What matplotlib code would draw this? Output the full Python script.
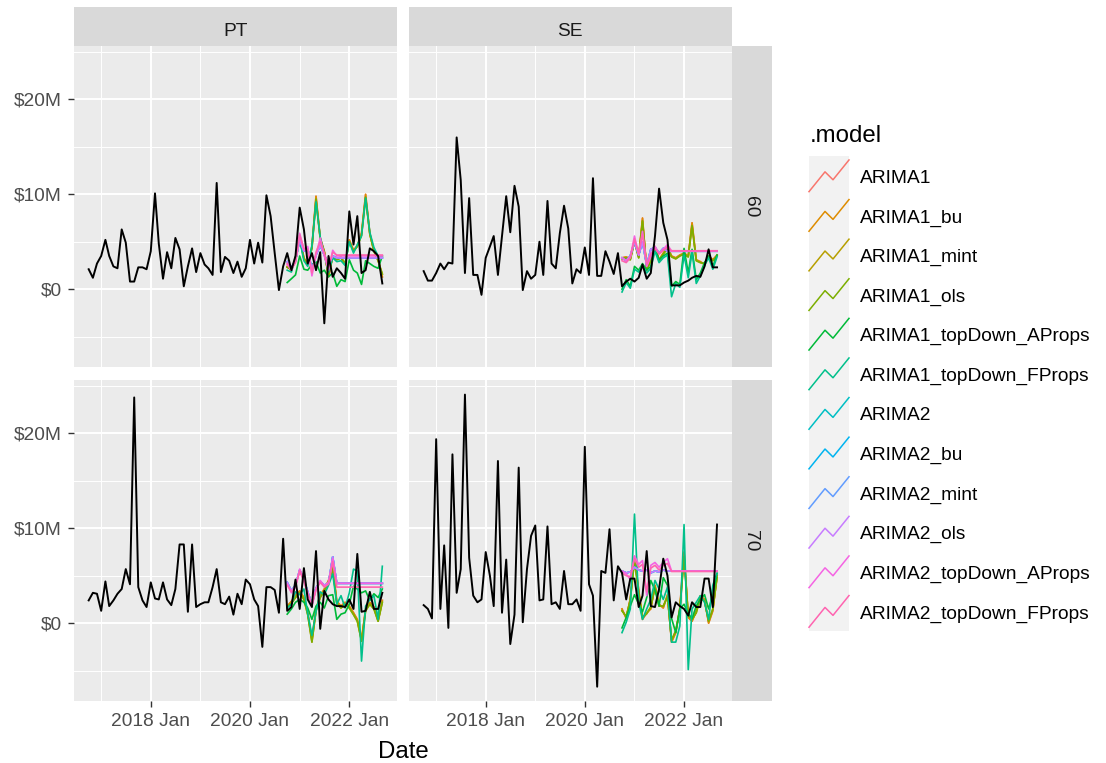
import numpy as np
import pandas as pd
import matplotlib
matplotlib.use("Agg")
import matplotlib.pyplot as plt
import matplotlib.dates as mdates

plt.rcParams['font.family'] = ['Liberation Sans', 'DejaVu Sans']

W, H = 1106, 763

# ---------------- data ----------------
months = pd.date_range("2016-10-01", periods=72, freq="MS")
fc_months = months[-24:]

countries = ["PT", "SE"]
groups = ["60", "70"]

models = ["ARIMA1", "ARIMA1_bu", "ARIMA1_mint", "ARIMA1_ols",
          "ARIMA1_topDown_AProps", "ARIMA1_topDown_FProps",
          "ARIMA2", "ARIMA2_bu", "ARIMA2_mint", "ARIMA2_ols",
          "ARIMA2_topDown_AProps", "ARIMA2_topDown_FProps"]
colors = ["#F8766D", "#DE8C00", "#B79F00", "#7CAE00", "#00BA38", "#00C08B",
          "#00BFC4", "#00B4F0", "#619CFF", "#C77CFF", "#F564E3", "#FF64B0"]

y_ticks = [0, 10, 20]
y_tick_labels = ["$0", "$10M", "$20M"]
y_minor = [-5, 5, 15, 25]
x_major = ["2018-01-01", "2020-01-01", "2022-01-01"]
x_major_labels = ["2018 Jan", "2020 Jan", "2022 Jan"]
x_minor = ["2017-01-01", "2019-01-01", "2021-01-01"]

# actual values ($M)
PT60_actual = [2.1, 1.2, 2.7, 3.5, 5.2, 3.5, 2.4, 2.2,
               6.3, 4.9, 0.8, 0.8, 2.3, 2.3, 2.1, 4.0,
               10.1, 4.8, 1.1, 3.9, 2.2, 5.4, 4.2, 0.3,
               2.4, 4.3, 1.8, 3.8, 2.6, 2.2, 1.5, 11.2,
               1.8, 3.4, 3.0, 1.7, 2.9, 1.3, 2.2, 5.2,
               2.7, 4.9, 2.8, 9.9, 7.7, 3.8, -0.1, 2.4,
               3.8, 2.0, 3.5, 8.6, 6.3, 2.7, 3.8, 2.0,
               3.9, -3.6, 3.5, 1.3, 2.2, 1.7, 1.1, 8.2,
               4.7, 7.7, 1.7, 2.0, 4.3, 4.0, 3.5, 0.6]
SE60_actual = [1.9, 0.9, 0.9, 1.7, 2.7, 2.1, 2.8, 2.7,
               16.0, 11.5, 1.7, 9.6, 1.5, 1.5, -0.6, 3.3,
               4.5, 5.6, 1.5, 5.6, 9.8, 6.0, 10.9, 8.7,
               -0.1, 1.9, 1.1, 1.5, 5.0, 1.5, 9.3, 2.7,
               2.2, 5.9, 8.8, 6.4, 0.6, 2.1, 1.7, 4.4,
               1.5, 11.7, 1.4, 1.4, 4.0, 2.9, 1.6, 3.8,
               0.3, 0.8, 1.1, 0.8, 1.2, 2.6, 1.1, 1.7,
               5.6, 10.6, 7.0, 5.2, 0.4, 0.4, 0.4, 0.7,
               0.9, 1.2, 1.4, 1.3, 2.4, 4.2, 2.3, 2.3]
PT70_actual = [2.4, 3.2, 3.1, 1.3, 4.4, 1.8, 2.4, 3.1,
               3.6, 5.7, 4.1, 23.8, 3.8, 2.4, 1.7, 4.3,
               2.6, 2.5, 4.3, 2.5, 1.9, 3.6, 8.3, 8.3,
               1.2, 8.3, 1.7, 2.0, 2.2, 2.2, 3.8, 5.7,
               2.2, 2.0, 2.8, 0.9, 3.1, 2.0, 4.6, 4.1,
               2.5, 1.8, -2.5, 3.8, 3.8, 3.5, 1.1, 8.9,
               1.3, 1.7, 4.6, 1.5, 5.8, 2.5, 1.7, 7.6,
               -0.6, 3.4, 2.5, 2.0, 1.8, 1.8, 1.7, 2.5,
               1.5, 7.3, 1.2, 1.3, 3.3, 1.5, 1.5, 3.2]
SE70_actual = [1.9, 1.5, 0.5, 19.4, 1.5, 8.2, -0.5, 17.8,
               3.2, 5.7, 24.1, 6.9, 2.9, 2.2, 2.5, 7.5,
               5.0, 1.8, 17.1, 1.1, 6.7, -2.2, 0.9, 16.4,
               0.1, 5.7, 9.2, 10.3, 2.4, 2.5, 10.2, 2.0,
               2.2, 1.5, 5.5, 2.0, 2.0, 2.5, 1.3, 18.6,
               4.1, 2.9, -6.7, 5.5, 5.3, 9.9, 2.4, 6.0,
               5.3, 2.5, 4.7, 4.7, 1.7, 2.9, 7.6, 1.8,
               1.7, 3.6, 6.8, 5.0, 0.6, 2.2, 1.8, 1.5,
               0.8, 2.2, 1.7, 1.7, 4.7, 4.7, 1.7, 10.4]

# forecasts ($M), Oct 2020 - Sep 2022
PT60_a1 = [2.4, 2.0, 3.2, 5.5, 3.3, 2.6, 4.5, 9.8, 5.4, 4.0, 1.3, 3.5, 3.2, 3.4, 2.6, 5.2, 4.1, 4.6, 5.9, 10.0, 5.9, 4.1, 3.1, 1.3]
PT60_a1m = [2.3, 2.1, 3.0, 5.3, 3.2, 2.7, 4.3, 9.5, 5.3, 3.9, 1.5, 3.4, 3.1, 3.3, 2.7, 5.0, 4.0, 4.5, 5.7, 9.7, 5.8, 4.0, 3.0, 1.6]
PT60_a1tA = [0.7, 1.1, 1.5, 3.5, 2.1, 2.0, 2.6, 2.9, 1.7, 2.0, 1.3, 1.7, 0.3, 1.0, 0.8, 3.1, 2.0, 1.7, 0.5, 3.0, 2.7, 2.4, 2.2, 3.5]
PT60_a1tF = [2.0, 1.8, 3.4, 5.2, 3.0, 2.4, 4.6, 9.2, 5.5, 3.7, 1.8, 3.3, 2.9, 3.0, 2.5, 5.0, 3.8, 4.7, 5.6, 9.6, 6.0, 4.4, 3.5, 3.4]
PT60_a2 = [2.9, 2.3, 3.0, 5.2, 4.0, 4.3, 2.0, 3.6, 4.6, 3.6, 2.6, 3.5, 3.3, 3.3, 3.3, 3.3, 3.3, 3.3, 3.3, 3.3, 3.3, 3.3, 3.3, 3.3]
PT60_a2tA = [2.6, 2.0, 3.0, 5.9, 4.1, 4.5, 1.4, 3.6, 5.4, 3.5, 2.0, 4.1, 3.5, 3.5, 3.5, 3.5, 3.5, 3.5, 3.5, 3.5, 3.5, 3.5, 3.5, 3.5]
PT60_a2tF = [2.7, 2.1, 2.8, 5.7, 4.3, 4.2, 1.7, 3.9, 5.0, 3.8, 2.3, 3.9, 3.6, 3.6, 3.6, 3.6, 3.6, 3.6, 3.6, 3.6, 3.6, 3.6, 3.6, 3.6]

SE60_a1 = [3.3, 3.4, 3.2, 5.2, 3.4, 7.5, 2.0, 3.1, 4.5, 3.1, 3.8, 4.5, 3.5, 3.3, 3.6, 3.8, 3.5, 7.0, 3.1, 2.9, 2.6, 3.5, 3.1, 3.6]
SE60_a1m = [3.2, 3.3, 3.1, 5.0, 3.3, 7.2, 2.1, 3.0, 4.4, 3.0, 3.7, 4.3, 3.4, 3.2, 3.5, 3.7, 3.4, 6.7, 3.0, 2.8, 2.7, 3.4, 3.0, 3.5]
SE60_a1tA = [0.0, 1.0, 0.3, 2.4, 2.0, 2.7, 2.0, 2.4, 4.3, 3.1, 3.5, 3.8, 0.3, 0.8, 0.5, 4.3, 1.7, 4.2, 1.0, 1.7, 2.8, 3.5, 2.4, 3.6]
SE60_a1tF = [-0.3, 0.7, 0.1, 2.1, 1.8, 2.5, 1.7, 2.2, 4.0, 2.8, 3.3, 3.6, -0.8, 0.6, 0.2, 3.6, 1.2, 3.9, 0.6, 1.4, 2.5, 3.3, 2.1, 3.4]
SE60_a2 = [3.3, 3.0, 3.5, 5.0, 3.6, 5.0, 2.5, 4.2, 4.4, 3.8, 4.3, 4.0, 4.0, 4.0, 4.0, 4.0, 4.0, 4.0, 4.0, 4.0, 4.0, 4.0, 4.0, 4.0]
SE60_a2tA = [3.3, 3.0, 3.4, 5.6, 3.6, 6.1, 2.4, 3.4, 4.5, 3.8, 4.2, 4.7, 4.0, 4.0, 4.0, 4.0, 4.0, 4.0, 4.0, 4.0, 4.0, 4.0, 4.0, 4.0]
SE60_a2tF = [3.0, 2.8, 3.3, 5.3, 3.8, 5.8, 2.6, 3.7, 4.3, 3.7, 4.1, 4.4, 4.05, 4.05, 4.05, 4.05, 4.05, 4.05, 4.05, 4.05, 4.05, 4.05, 4.05, 4.05]

PT70_a1 = [1.8, 2.3, 2.9, 3.4, 2.7, 1.1, -1.7, 1.5, 2.9, 3.6, 4.5, 6.0, 2.3, 1.8, 2.2, 1.8, 1.1, 0.4, -1.7, 1.5, 2.2, 1.7, 0.3, 2.4]
PT70_a1m = [1.7, 2.1, 2.7, 3.2, 2.5, 0.9, -2.0, 1.3, 2.7, 3.4, 4.3, 5.8, 2.1, 1.6, 2.0, 1.6, 0.9, 0.2, -1.9, 1.3, 2.0, 1.5, 0.2, 2.2]
PT70_a1tA = [0.95, 1.5, 2.2, 2.5, 2.2, 1.6, 0.4, 1.8, 2.2, 1.6, 2.9, 3.0, 0.4, 0.95, 1.1, 2.0, 3.9, 3.6, 3.2, 3.4, 2.4, 3.1, 2.7, 3.6]
PT70_a1tF = [1.6, 2.0, 3.3, 3.0, 3.6, 1.0, -1.3, 1.2, 3.3, 3.0, 4.0, 5.2, 2.0, 2.9, 1.6, 3.2, 5.7, 5.5, -4.0, 1.8, 2.5, 2.9, 0.4, 6.0]
PT70_a2 = [4.3, 3.4, 4.0, 5.6, 4.6, 3.3, 2.0, 3.7, 4.4, 4.0, 4.2, 7.0, 4.2, 4.2, 4.2, 4.2, 4.2, 4.2, 4.2, 4.2, 4.2, 4.2, 4.2, 4.2]
PT70_a2tA = [4.1, 3.2, 3.9, 5.7, 4.6, 3.2, 1.8, 3.6, 4.5, 3.9, 4.3, 6.8, 4.2, 4.2, 4.2, 4.2, 4.2, 4.2, 4.2, 4.2, 4.2, 4.2, 4.2, 4.2]
PT70_a2tF = [4.0, 3.3, 3.8, 5.5, 4.4, 3.1, 1.9, 3.5, 4.3, 3.8, 4.1, 6.5, 3.8, 3.8, 3.8, 3.8, 3.8, 3.8, 3.8, 3.8, 3.8, 3.8, 3.8, 3.8]

SE70_a1 = [1.5, 0.5, 2.6, 7.0, 3.5, 0.4, 1.1, 1.5, 4.0, 2.0, 1.6, 3.0, -2.0, -1.0, 1.6, 7.5, 0.6, 0.2, 1.3, 2.9, 2.5, 0.0, 1.3, 5.0]
SE70_a1m = [1.3, 0.7, 2.4, 6.6, 3.2, 0.6, 1.0, 1.7, 3.8, 1.8, 1.8, 2.8, -1.8, -0.8, 1.4, 7.0, 0.8, 0.4, 1.1, 2.7, 2.3, 0.2, 1.5, 4.8]
SE70_a1tA = [-0.5, 0.6, 1.8, 3.0, 2.0, 1.2, 2.7, 4.5, 3.5, 1.8, 4.8, 4.0, 0.5, -1.0, 1.5, 2.0, 1.0, 0.5, 1.8, 2.5, 3.0, 1.5, 3.0, 5.2]
SE70_a1tF = [-1.0, 0.1, 1.5, 11.5, 2.2, 0.4, 1.5, 2.5, 4.5, 3.6, 2.5, 3.8, -2.0, -2.0, -0.3, 10.4, -4.9, 1.5, 2.2, 2.9, 2.2, 0.4, 4.0, 5.3]
SE70_a2 = [5.5, 5.3, 5.4, 5.9, 5.6, 5.5, 5.6, 5.3, 5.5, 5.4, 5.6, 5.5, 5.5, 5.5, 5.5, 5.5, 5.5, 5.5, 5.5, 5.5, 5.5, 5.5, 5.5, 5.5]
SE70_a2tA = [5.5, 5.2, 4.6, 7.1, 6.2, 6.6, 2.9, 6.1, 6.4, 5.9, 6.4, 6.8, 5.5, 5.5, 5.5, 5.5, 5.5, 5.5, 5.5, 5.5, 5.5, 5.5, 5.5, 5.5]
SE70_a2tF = [5.3, 5.0, 4.9, 6.8, 5.9, 6.2, 3.3, 5.8, 6.1, 5.6, 6.1, 6.3, 5.45, 5.45, 5.45, 5.45, 5.45, 5.45, 5.45, 5.45, 5.45, 5.45, 5.45, 5.45]


def model_series(a1, a1m, a1tA, a1tF, a2, a2tA, a2tF):
    # order follows `models`
    return [a1, a1, a1m, a1m, a1tA, a1tF, a2, a2, a2, a2, a2tA, a2tF]


panels = {
    ("PT", "60"): (PT60_actual, model_series(PT60_a1, PT60_a1m, PT60_a1tA, PT60_a1tF, PT60_a2, PT60_a2tA, PT60_a2tF)),
    ("SE", "60"): (SE60_actual, model_series(SE60_a1, SE60_a1m, SE60_a1tA, SE60_a1tF, SE60_a2, SE60_a2tA, SE60_a2tF)),
    ("PT", "70"): (PT70_actual, model_series(PT70_a1, PT70_a1m, PT70_a1tA, PT70_a1tF, PT70_a2, PT70_a2tA, PT70_a2tF)),
    ("SE", "70"): (SE70_actual, model_series(SE70_a1, SE70_a1m, SE70_a1tA, SE70_a1tF, SE70_a2, SE70_a2tA, SE70_a2tF)),
}

# ---------------- figure ----------------
fig = plt.figure(figsize=(W / 100, H / 100), dpi=100)


def box(x0, y0, x1, y1):
    return [x0 / W, 1 - y1 / H, (x1 - x0) / W, (y1 - y0) / H]


col_x = [(74, 397), (409, 731.7)]
row_y = [(46, 367.3), (380, 701.3)]
strip_top = (6.7, 46)
strip_right = (731.7, 771.7)

# shared scales (ggplot-style 5% expansion)
all_vals = np.concatenate([np.concatenate([np.asarray(a)] + [np.asarray(s) for s in f])
                           for a, f in panels.values()])
ylo, yhi = all_vals.min(), all_vals.max()
ypad = 0.05 * (yhi - ylo)
xnum = mdates.date2num(months.to_pydatetime())
xfc = mdates.date2num(fc_months.to_pydatetime())
xpad = 0.05 * (xnum[-1] - xnum[0])
xmaj = mdates.date2num(pd.to_datetime(x_major).to_pydatetime())
xmin_ = mdates.date2num(pd.to_datetime(x_minor).to_pydatetime())

TICK_FS = 13.8
TITLE_FS = 17.3

for r, g in enumerate(groups):
    for c, ctry in enumerate(countries):
        x0, x1 = col_x[c]
        y0, y1 = row_y[r]
        ax = fig.add_axes(box(x0, y0, x1, y1))
        ax.set_facecolor("#EBEBEB")
        for s in ax.spines.values():
            s.set_visible(False)
        actual, fcs = panels[(ctry, g)]
        for m, col, vals in zip(models, colors, fcs):
            ax.plot(xfc, vals, color=col, lw=1.2, solid_joinstyle="round")
        ax.plot(xnum, actual, color="black", lw=1.4, solid_joinstyle="round")
        ax.set_xlim(xnum[0] - xpad, xnum[-1] + xpad)
        ax.set_ylim(ylo - ypad, yhi + ypad)
        ax.set_yticks(y_ticks)
        ax.set_yticks(y_minor, minor=True)
        ax.set_xticks(xmaj)
        ax.set_xticks(xmin_, minor=True)
        ax.set_yticklabels(y_tick_labels)
        ax.set_xticklabels(x_major_labels)
        ax.grid(which="major", color="white", lw=1.4)
        ax.grid(which="minor", color="white", lw=0.7)
        ax.set_axisbelow(True)
        ax.tick_params(which="minor", length=0)
        ax.tick_params(which="major", length=4.5, width=1.0, color="#333333",
                       labelcolor="#4D4D4D", labelsize=TICK_FS, pad=4)
        if c != 0:
            ax.tick_params(axis="y", which="major", length=0, labelleft=False)
        if r != len(groups) - 1:
            ax.tick_params(axis="x", which="major", length=0, labelbottom=False)

        # top strips
        if r == 0:
            sa = fig.add_axes(box(x0, strip_top[0], x1, strip_top[1]))
            sa.set_facecolor("#D9D9D9")
            sa.set_xticks([]); sa.set_yticks([])
            for s in sa.spines.values():
                s.set_visible(False)
            sa.text(0.5, (strip_top[1] - 35.7) / (strip_top[1] - strip_top[0]), ctry,
                    transform=sa.transAxes, ha="center", va="baseline",
                    fontsize=TICK_FS, color="#1A1A1A")
        # right strips
        if c == len(countries) - 1:
            sa = fig.add_axes(box(strip_right[0], y0, strip_right[1], y1))
            sa.set_facecolor("#D9D9D9")
            sa.set_xticks([]); sa.set_yticks([])
            for s in sa.spines.values():
                s.set_visible(False)
            sa.text(0.46, 0.5, g, transform=sa.transAxes, ha="center", va="center",
                    rotation=270, fontsize=TICK_FS, color="#1A1A1A")

# axis title
fig.text(403 / W, 1 - 758 / H, "Date", ha="center", va="baseline", fontsize=TITLE_FS, color="black")

# legend
key_top, key_h = 156, 39.6
lx0, lx1 = 809, 849
lax = fig.add_axes(box(lx0, key_top, lx1, key_top + key_h * len(models)))
lax.set_facecolor("#F2F2F2")
lax.set_xticks([]); lax.set_yticks([])
for s in lax.spines.values():
    s.set_visible(False)
lax.set_xlim(0, 1)
lax.set_ylim(len(models), 0)
glyph_x = [0.0, 0.4, 0.6, 1.0]
glyph_y = [0.1, 0.6, 0.4, 0.9]
for i, (m, col) in enumerate(zip(models, colors)):
    lax.plot(glyph_x, [i + 1 - v for v in glyph_y], color=col, lw=1.1, clip_on=False)
    yc = key_top + key_h * (i + 0.5)
    fig.text(860 / W, 1 - (yc + 7) / H, m, ha="left", va="baseline",
             fontsize=TICK_FS, color="black")
fig.text(810 / W, 1 - 141.7 / H, ".model", ha="left", va="baseline",
         fontsize=TITLE_FS, color="black")

fig.savefig("out.png", dpi=100)
